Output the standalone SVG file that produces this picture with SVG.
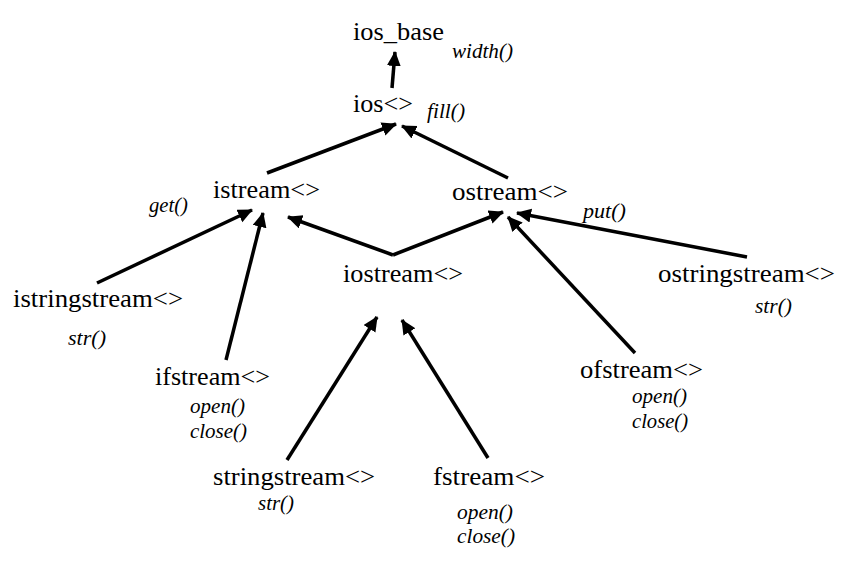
<svg xmlns="http://www.w3.org/2000/svg" width="850" height="566" viewBox="0 0 850 566">
<style>
.n{font-family:"Liberation Serif","Times New Roman",serif;font-size:25px;fill:#000}
.m{font-family:"Liberation Serif","Times New Roman",serif;font-size:20px;font-style:italic;fill:#000}
.c line{stroke:#000;stroke-width:3.5;fill:none}
</style>
<defs>
<marker id="a" markerUnits="userSpaceOnUse" markerWidth="16" markerHeight="16" refX="14" refY="7" orient="auto">
<path d="M0,0 L15,7 L0,14 z" fill="#000"/>
</marker>
</defs>
<rect width="850" height="566" fill="#fff"/>
<g class="c" id="connectors">
<line x1="392" y1="88" x2="395" y2="52" marker-end="url(#a)"/>
<line x1="267" y1="173" x2="396" y2="124" marker-end="url(#a)"/>
<line x1="508" y1="178" x2="402" y2="126" marker-end="url(#a)"/>
<line x1="97" y1="283" x2="252" y2="210" marker-end="url(#a)"/>
<line x1="226" y1="360" x2="263" y2="213" marker-end="url(#a)"/>
<line x1="393" y1="255" x2="288" y2="217" marker-end="url(#a)"/>
<line x1="393" y1="255" x2="503" y2="212" marker-end="url(#a)"/>
<line x1="747" y1="257" x2="517" y2="213" marker-end="url(#a)"/>
<line x1="635" y1="353" x2="508" y2="217" marker-end="url(#a)"/>
<line x1="287" y1="460" x2="377" y2="317" marker-end="url(#a)"/>
<line x1="488" y1="458" x2="402" y2="320" marker-end="url(#a)"/>
</g>
<g id="ios_base"><text class="n" x="353" y="40" textLength="91" lengthAdjust="spacingAndGlyphs">ios_base</text><text class="m" x="452" y="58" textLength="61" lengthAdjust="spacingAndGlyphs">width()</text></g>
<g id="ios"><text class="n" x="353" y="112" textLength="60" lengthAdjust="spacingAndGlyphs">ios&lt;&gt;</text><text class="m" x="427" y="118" textLength="38" lengthAdjust="spacingAndGlyphs">fill()</text></g>
<g id="istream"><text class="n" x="213" y="198" textLength="107" lengthAdjust="spacingAndGlyphs">istream&lt;&gt;</text><text class="m" x="149" y="212" textLength="39" lengthAdjust="spacingAndGlyphs">get()</text></g>
<g id="ostream"><text class="n" x="452" y="200" textLength="116" lengthAdjust="spacingAndGlyphs">ostream&lt;&gt;</text><text class="m" x="583" y="218" textLength="43" lengthAdjust="spacingAndGlyphs">put()</text></g>
<g id="istringstream"><text class="n" x="13" y="307" textLength="170" lengthAdjust="spacingAndGlyphs">istringstream&lt;&gt;</text><text class="m" x="68" y="345" textLength="38" lengthAdjust="spacingAndGlyphs">str()</text></g>
<g id="iostream"><text class="n" x="343" y="282" textLength="120" lengthAdjust="spacingAndGlyphs">iostream&lt;&gt;</text></g>
<g id="ostringstream"><text class="n" x="658" y="282" textLength="177" lengthAdjust="spacingAndGlyphs">ostringstream&lt;&gt;</text><text class="m" x="755" y="313" textLength="37" lengthAdjust="spacingAndGlyphs">str()</text></g>
<g id="ifstream"><text class="n" x="155" y="385" textLength="115" lengthAdjust="spacingAndGlyphs">ifstream&lt;&gt;</text><text class="m" x="190" y="413" textLength="55" lengthAdjust="spacingAndGlyphs">open()</text><text class="m" x="190" y="438" textLength="57" lengthAdjust="spacingAndGlyphs">close()</text></g>
<g id="ofstream"><text class="n" x="580" y="378" textLength="123" lengthAdjust="spacingAndGlyphs">ofstream&lt;&gt;</text><text class="m" x="632" y="403" textLength="55" lengthAdjust="spacingAndGlyphs">open()</text><text class="m" x="632" y="428" textLength="56" lengthAdjust="spacingAndGlyphs">close()</text></g>
<g id="stringstream"><text class="n" x="213" y="485" textLength="162" lengthAdjust="spacingAndGlyphs">stringstream&lt;&gt;</text><text class="m" x="258" y="510" textLength="36" lengthAdjust="spacingAndGlyphs">str()</text></g>
<g id="fstream"><text class="n" x="433" y="485" textLength="112" lengthAdjust="spacingAndGlyphs">fstream&lt;&gt;</text><text class="m" x="457" y="519" textLength="56" lengthAdjust="spacingAndGlyphs">open()</text><text class="m" x="457" y="543" textLength="58" lengthAdjust="spacingAndGlyphs">close()</text></g>
</svg>
